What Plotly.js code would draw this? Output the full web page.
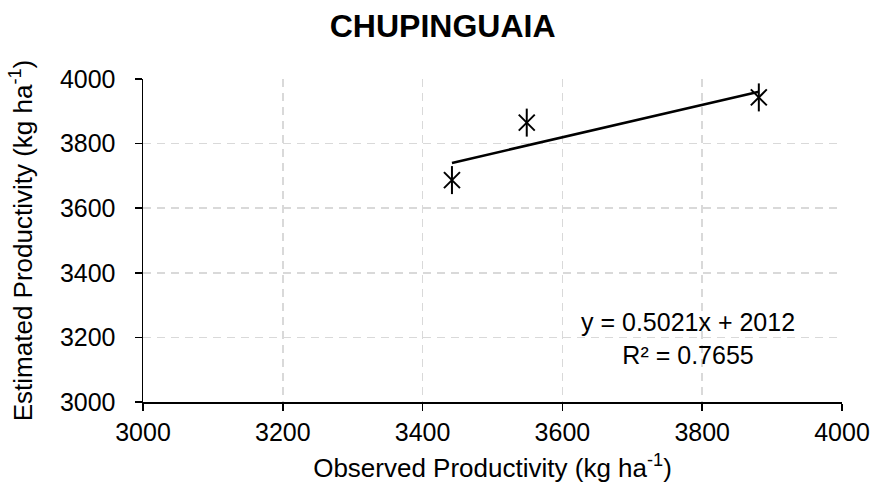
<!DOCTYPE html>
<html>
<head>
<meta charset="utf-8">
<script src="https://cdn.plot.ly/plotly-3.0.1.min.js"></script>
<style>html,body{margin:0;padding:0;background:#fff;}#chart{width:873px;height:489px;}</style>
</head>
<body>
<div id="chart"></div>
<script>
const observed = [3442, 3549, 3881];
const estimated = [3687, 3865, 3943];
const slope = 0.5021;
const intercept = 2012;
const rSquared = 0.7655;
const tickValues = [3000, 3200, 3400, 3600, 3800, 4000];

const xMin = Math.min(...observed), xMax = Math.max(...observed);
const trendX = [xMin, xMax];
const trendY = trendX.map(v => slope * v + intercept);

const FONT = "Liberation Sans, Arial, sans-serif";

const traces = [
  {x: trendX, y: trendY, mode: 'lines', type: 'scatter',
   line: {color: '#000', width: 2.5}, hoverinfo: 'skip', showlegend: false},
  {x: observed, y: estimated, mode: 'markers', type: 'scatter',
   marker: {symbol: 'x-thin-open', size: 16, color: '#000', line: {color: '#000', width: 2}}, showlegend: false},
  {x: observed, y: estimated, mode: 'markers', type: 'scatter',
   marker: {symbol: 'line-ns-open', size: 20, color: '#000', line: {color: '#000', width: 2}}, showlegend: false}
];

const axisCommon = {
  range: [3000, 4000],
  tickvals: tickValues,
  ticktext: tickValues.map(String),
  showgrid: true, gridcolor: '#d9d9d9', gridwidth: 1.5, griddash: '8px,6px',
  zeroline: false, showline: true, linecolor: '#000', linewidth: 1.5,
  ticks: 'outside', ticklen: 7, tickcolor: '#000', tickwidth: 1.5,
  tickfont: {family: FONT, size: 25, color: '#000'},
  fixedrange: true
};

const layout = {
  width: 873, height: 489,
  margin: {l: 143, r: 31, t: 79, b: 87},
  paper_bgcolor: '#fff', plot_bgcolor: '#fff',
  font: {family: FONT, color: '#000'},
  title: {text: '<b>CHUPINGUAIA</b>', font: {family: FONT, size: 32, color: '#000'},
          x: 0.507, xref: 'container', xanchor: 'center',
          y: 1, yref: 'container', yanchor: 'top', pad: {t: 15}},
  xaxis: Object.assign({}, axisCommon, {
    title: {text: 'Observed Productivity (kg ha<sup>-1</sup>)', font: {family: FONT, size: 26, color: '#000'}, standoff: 14}
  }),
  yaxis: Object.assign({}, axisCommon, {
    ticklabelstandoff: 14,
    title: {text: 'Estimated Productivity (kg ha<sup>-1</sup>)', font: {family: FONT, size: 26, color: '#000'}, standoff: 20}
  }),
  annotations: [{
    x: 3780, y: 3198, xref: 'x', yref: 'y', showarrow: false,
    text: 'y = ' + slope + 'x + ' + intercept + '<br>R² = ' + rSquared,
    font: {family: FONT, size: 25, color: '#000'}, align: 'center'
  }]
};

Plotly.newPlot('chart', traces, layout, {displayModeBar: false, staticPlot: true});
</script>
</body>
</html>
